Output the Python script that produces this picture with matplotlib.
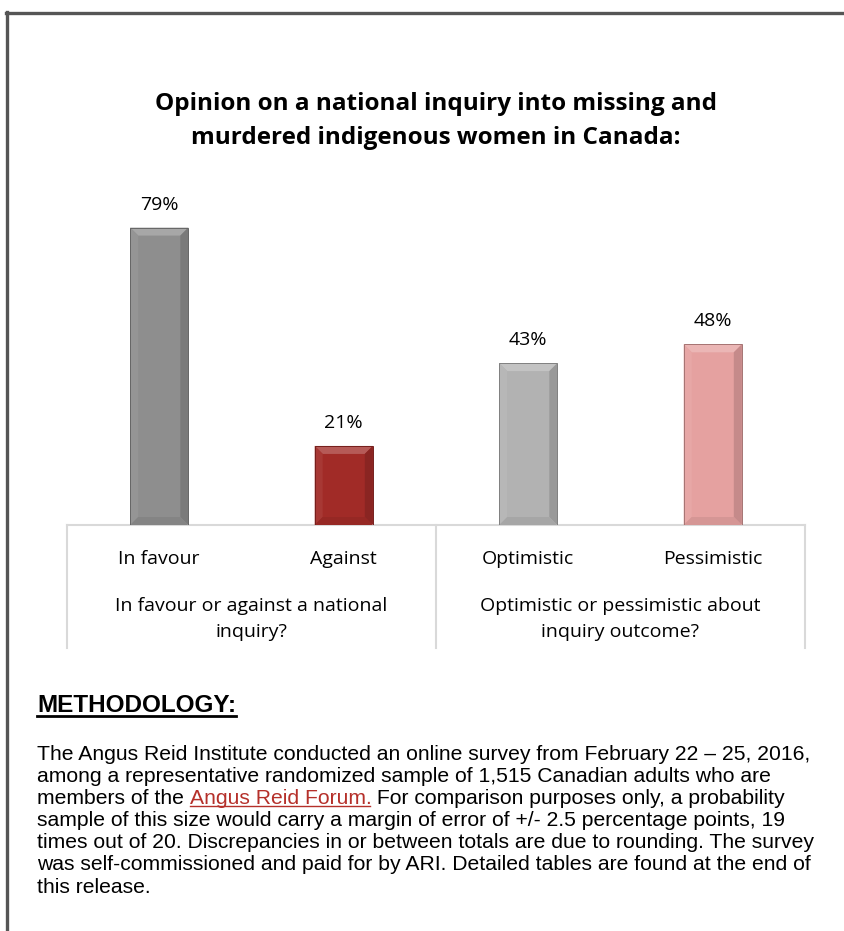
import matplotlib
matplotlib.use("Agg")
import matplotlib.pyplot as plt
import matplotlib.colors as mcolors
from matplotlib.patches import Polygon
from matplotlib.lines import Line2D
from matplotlib.transforms import blended_transform_factory

# ---------------- data ----------------
categories = ["In favour", "Against", "Optimistic", "Pessimistic"]
values = [79, 21, 43, 48]
bar_colors = ["#8e8e8e", "#a12b27", "#b2b2b2", "#e5a1a0"]
group_labels = ["In favour or against a national\ninquiry?",
                "Optimistic or pessimistic about\ninquiry outcome?"]
title = "Opinion on a national inquiry into missing and\nmurdered indigenous women in Canada:"
method_title = "METHODOLOGY:"
method_lines = [
    "The Angus Reid Institute conducted an online survey from February 22 \u2013 25, 2016,",
    "among a representative randomized sample of 1,515 Canadian adults who are",
    None,  # line with link
    "sample of this size would carry a margin of error of +/- 2.5 percentage points, 19",
    "times out of 20. Discrepancies in or between totals are due to rounding. The survey",
    "was self-commissioned and paid for by ARI. Detailed tables are found at the end of",
    "this release.",
]
link_parts = ["members of the ", "Angus Reid Forum.", " For comparison purposes only, a probability"]

W, H = 845, 931
fig = plt.figure(figsize=(W / 100, H / 100), dpi=100)
fig.patch.set_facecolor("white")

def fx(px):
    return px / W

def fy(py):
    return 1 - py / H

CH_FONT = ["Open Sans", "DejaVu Sans"]
TX_FONT = ["Liberation Sans", "DejaVu Sans"]

# page border
fig.add_artist(Line2D([fx(6), fx(845)], [fy(13), fy(13)], color="#555555", lw=2.4))
fig.add_artist(Line2D([fx(7.5), fx(7.5)], [fy(12), fy(931)], color="#555555", lw=2.4))

# axes
ax = fig.add_axes([fx(67), fy(525), fx(805) - fx(67), fy(205) - fy(525)])
ax.set_xlim(-0.5, len(categories) - 0.5)
ax.set_ylim(0, 85)
for s in ["top", "left", "right"]:
    ax.spines[s].set_visible(False)
ax.spines["bottom"].set_color("#d9d9d9")
ax.spines["bottom"].set_linewidth(1.5)
ax.set_yticks([])

x = list(range(len(categories)))
bw = 0.315
bars = ax.bar(x, values, width=bw, color=bar_colors, edgecolor="none", zorder=2)

# bevel effect derived from bar geometry
px_per_x = (805 - 67) / len(categories)
px_per_y = 320 / 85
bx = 8 / px_per_x
by = 8 / px_per_y
for rect, c in zip(bars, bar_colors):
    x0 = rect.get_x()
    x1 = x0 + rect.get_width()
    y1 = rect.get_height()
    rgb = mcolors.to_rgb(c)
    light = tuple(min(1, v + (1 - v) * 0.22) for v in rgb)
    lighter = tuple(min(1, v + (1 - v) * 0.06) for v in rgb)
    dark = tuple(v * 0.86 for v in rgb)
    bottom = tuple(v * 0.93 for v in rgb)
    polys = [
        ([(x0, y1), (x1, y1), (x1 - bx, y1 - by), (x0 + bx, y1 - by)], light),
        ([(x0, 0), (x0, y1), (x0 + bx, y1 - by), (x0 + bx, by)], lighter),
        ([(x1, 0), (x1, y1), (x1 - bx, y1 - by), (x1 - bx, by)], dark),
        ([(x0, 0), (x1, 0), (x1 - bx, by), (x0 + bx, by)], bottom),
    ]
    for pts, col in polys:
        ax.add_patch(Polygon(pts, closed=True, facecolor=col, edgecolor="none", zorder=3))
    ax.add_patch(Polygon([(x0, 0), (x0, y1), (x1, y1), (x1, 0)], closed=True,
                         facecolor="none", edgecolor=tuple(v * 0.72 for v in rgb),
                         lw=0.7, zorder=4))

for xi, v in zip(x, values):
    ax.annotate(f"{v}%", (xi, v), xytext=(0, 14), textcoords="offset pixels",
                ha="center", va="bottom", fontsize=14, family=CH_FONT, color="#000000")

ax.set_xticks(x)
ax.set_xticklabels(categories, fontsize=14, family=CH_FONT)
ax.tick_params(axis="x", length=0, pad=18)

# group separators below axis
tr = blended_transform_factory(ax.transData, fig.transFigure)
for sx in [-0.5, 1.5, 3.5]:
    ax.add_artist(Line2D([sx, sx], [fy(525), fy(648)], transform=tr, color="#d9d9d9",
                         lw=1.5, clip_on=False))
for gi, gl in enumerate(group_labels):
    ax.text(gi * 2 + 0.5, fy(619), gl, transform=tr, ha="center", va="center",
            fontsize=14, family=CH_FONT, linespacing=1.55)

# title
fig.text(fx(436), fy(121), title, ha="center", va="center", fontsize=17.5, fontweight="bold",
         family=CH_FONT, linespacing=1.55)

# methodology
t = fig.text(fx(37), fy(705), method_title, ha="left", va="center", fontsize=17.5,
             fontweight="bold", family=TX_FONT)
fig.canvas.draw()
renderer = fig.canvas.get_renderer()
bb = t.get_window_extent(renderer)
fig.add_artist(Line2D([bb.x0 / W, bb.x1 / W], [(bb.y0 + 1) / H, (bb.y0 + 1) / H],
                      color="black", lw=2))

line_y0 = 754
line_dy = 22.2
fs = 15.2
for i, ln in enumerate(method_lines):
    yy = fy(line_y0 + i * line_dy)
    if ln is not None:
        fig.text(fx(37), yy, ln, ha="left", va="center", fontsize=fs, family=TX_FONT)
    else:
        cur = 37.0
        for j, part in enumerate(link_parts):
            col = "#b5302a" if j == 1 else "black"
            tt = fig.text(fx(cur), yy, part, ha="left", va="center", fontsize=fs,
                          family=TX_FONT, color=col)
            fig.canvas.draw()
            b = tt.get_window_extent(renderer)
            if j == 1:
                fig.add_artist(Line2D([b.x0 / W, (b.x1 - 1) / W], [(b.y0 + 2) / H, (b.y0 + 2) / H],
                                      color=col, lw=1))
            cur = b.x1

fig.savefig("out.png", dpi=100, facecolor="white")
